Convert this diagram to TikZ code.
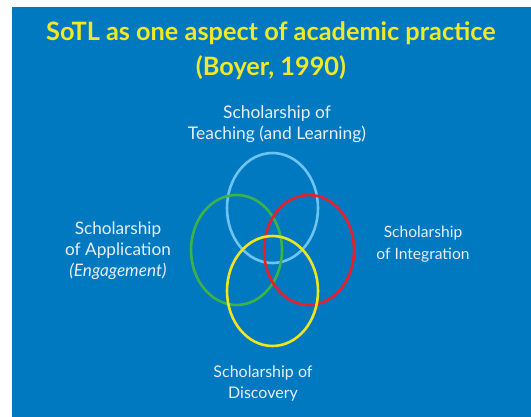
\documentclass[tikz,border=0pt]{standalone}
\usepackage{fontspec}
\setmainfont{Lato}
\definecolor{bgblue}{RGB}{0,121,193}
\definecolor{ttlyellow}{RGB}{240,232,40}
\definecolor{lblue}{RGB}{110,196,240}
\definecolor{vgreen}{RGB}{60,178,72}
\definecolor{vred}{RGB}{232,30,40}
\definecolor{vyellow}{RGB}{240,230,30}
\definecolor{lbltext}{RGB}{232,240,248}
\begin{document}
\begin{tikzpicture}[x=1pt,y=-1pt,
  ring/.style={line width=2.6pt},
  lbl/.style={text=lbltext,align=center,inner sep=0pt}]
\useasboundingbox (0,0) rectangle (531,417);
\fill[white] (0,0) rectangle (531,417);
\fill[bgblue] (12,7) rectangle (531,417);
\node[text=ttlyellow,align=center,inner sep=0pt,font=\fontsize{25.3}{35}\selectfont\bfseries] (title) at (271,51) {SoTL as one aspect of academic practice\\(Boyer, 1990)};
\draw[ring,lblue] (272.5,208) ellipse [x radius=45.5,y radius=55];
\draw[ring,vgreen] (236.5,250) ellipse [x radius=45.5,y radius=55];
\draw[ring,vred] (309,250) ellipse [x radius=45,y radius=55];
\draw[ring,vyellow] (272.5,291) ellipse [x radius=45.5,y radius=55];
\node[lbl,font=\fontsize{17.4}{21.5}\selectfont] (tl) at (277,124) {Scholarship of\\Teaching (and Learning)};
\node[lbl,font=\fontsize{17.2}{21}\selectfont] (app) at (118,251) {Scholarship\\of Application\\\textit{(Engagement)}};
\node[lbl,font=\fontsize{15.6}{22}\selectfont] (int) at (423,244) {Scholarship\\of Integration};
\node[lbl,font=\fontsize{16}{21}\selectfont] (disc) at (263,383) {Scholarship of\\Discovery};
\end{tikzpicture}
\end{document}
